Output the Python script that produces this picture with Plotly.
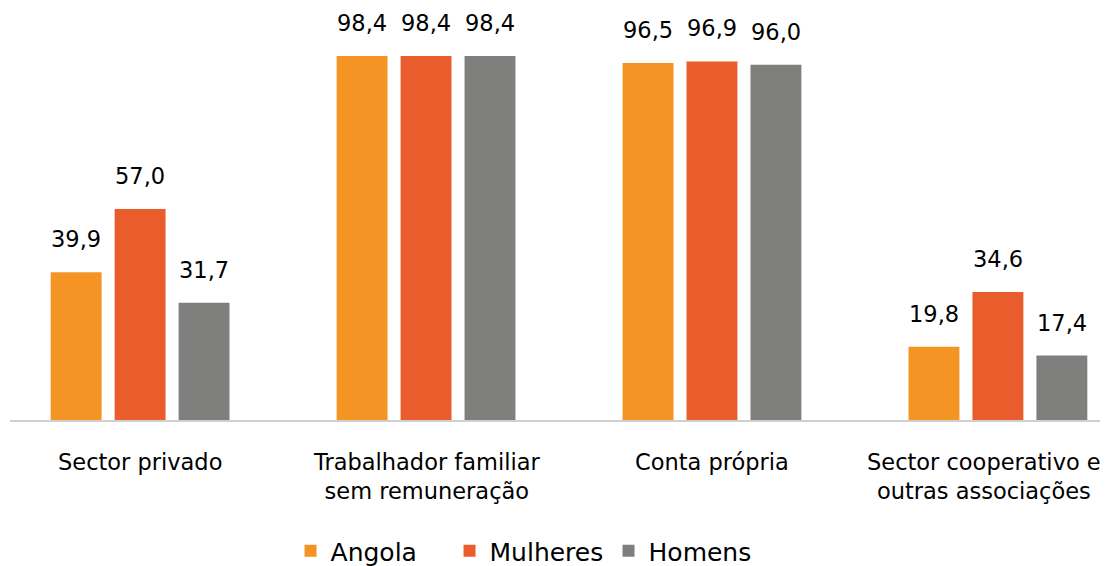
import plotly.graph_objects as go

categories = ["Sector privado", "Trabalhador familiar<br>sem remuneração", "Conta própria",
              "Sector cooperativo e<br>outras associações"]
series_names = ["Angola", "Mulheres", "Homens"]
angola = [39.9, 98.4, 96.5, 19.8]
mulheres = [57.0, 98.4, 96.9, 34.6]
homens = [31.7, 98.4, 96.0, 17.4]
colors = ["#F39425", "#E95C2C", "#7F7F7E"]

FONT = "DejaVu Sans"
BARGAP = 0.329
BARGROUPGAP = 0.204
all_series = [angola, mulheres, homens]
n_series = len(all_series)
slot = (1 - BARGAP) / n_series

def fmt(v):
    return f"{v:.1f}".replace(".", ",")

fig = go.Figure()
for name, vals, col in zip(series_names, all_series, colors):
    fig.add_trace(go.Bar(
        x=categories, y=vals, name=name, marker=dict(color=col, line=dict(width=0)),
    ))

# value labels above bars, positioned from the group layout
for j, vals in enumerate(all_series):
    off = (j - (n_series - 1) / 2) * slot
    for i, v in enumerate(vals):
        fig.add_annotation(x=i + off, y=v, xref="x", yref="y", text=fmt(v),
                           showarrow=False, yanchor="middle", yshift=33,
                           font=dict(family=FONT, size=22.5, color="#000000"))

# category labels under the axis (last one nudged to stay inside the page edge)
for i, cat in enumerate(categories):
    fig.add_annotation(x=cat, y=0, xref="x", yref="y", text=cat, showarrow=False,
                       yanchor="top", yshift=-27, xshift=(-14 if i == len(categories) - 1 else 0),
                       align="center",
                       font=dict(family=FONT, size=22.5, color="#000000"))

fig.update_layout(
    width=1108, height=566,
    margin=dict(l=2, r=8, t=5, b=154, autoexpand=False),
    barmode="group", bargap=BARGAP, bargroupgap=BARGROUPGAP,
    plot_bgcolor="white", paper_bgcolor="white",
    font=dict(family=FONT, size=22.5, color="#000000"),
    showlegend=True,
    legend=dict(orientation="h", x=0.2555, xanchor="left", y=-0.322, yanchor="middle",
                font=dict(family=FONT, size=25, color="#000000"), itemwidth=30,
                entrywidth=114, entrywidthmode="pixels",
                traceorder="normal"),
)
fig.update_xaxes(range=[-0.455, 3.385], showline=True, linecolor="#D0D0D0", linewidth=2,
                 ticks="", showticklabels=False, showgrid=False, automargin=False)
fig.update_yaxes(range=[0, 110], visible=False, showgrid=False, zeroline=False)

fig.write_html("out.html")
